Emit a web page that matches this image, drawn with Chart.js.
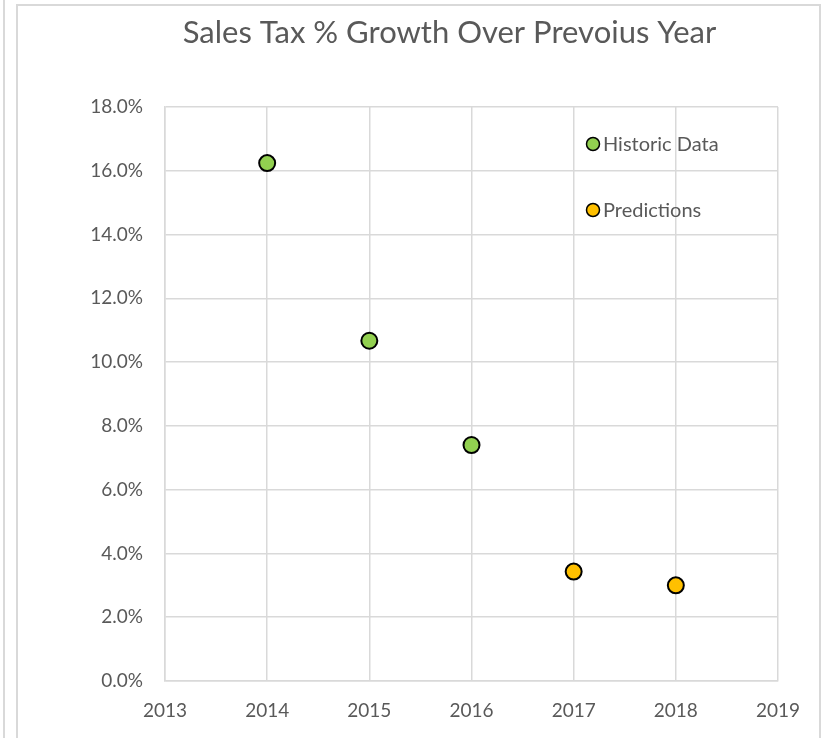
<!DOCTYPE html>
<html lang="en">
<head>
  <meta charset="UTF-8">
  <title>Sales Tax Growth</title>
  <script src="https://cdn.jsdelivr.net/npm/chart.js"></script>
  <style>
    body {
      margin: 0;
      background: #fff;
      width: 823px;
      height: 738px;
      overflow: hidden;
      position: relative;
    }
    .edge {
      position: absolute;
      left: 3px;
      top: 0;
      width: 0;
      height: 738px;
      border-left: 2px solid #d9d9d9;
    }
    .frame {
      position: absolute;
      left: 16px;
      top: 4px;
      width: 801px;
      height: 740px;
      border: 2px solid #d9d9d9;
      border-bottom: none;
    }
  </style>
</head>
<body>
  <div class="edge"></div>
  <div class="frame">
    <canvas id="chart" width="801" height="732"></canvas>
  </div>

  <script>
    const historicYears = [2014, 2015, 2016];
    const historicGrowth = [16.24, 10.67, 7.40];
    const predictionYears = [2017, 2018];
    const predictionGrowth = [3.43, 3.00];
    const seriesNames = ["Historic Data", "Predictions"];
    const chartTitle = "Sales Tax % Growth Over Prevoius Year";

    const textColor = "#595959";
    const gridColor = "#d9d9d9";
    const fontFamily = "Lato, 'Open Sans', sans-serif";

    function toPoints(xs, ys) {
      return xs.map((x, i) => ({ x: x, y: ys[i] }));
    }

    // title is a bit right of the canvas centre in the excel chart, so draw it here
    const titleText = {
      id: "titleText",
      afterDraw(chart) {
        const ctx = chart.ctx;
        const area = chart.chartArea;
        ctx.save();
        ctx.fillStyle = textColor;
        ctx.font = "31px " + fontFamily;
        ctx.textAlign = "center";
        ctx.textBaseline = "middle";
        ctx.fillText(chartTitle, (area.left + area.right) / 2 - 22, 27);
        ctx.restore();
      }
    };

    // legend drawn inside the plot, top right
    const insideLegend = {
      id: "insideLegend",
      afterDraw(chart) {
        const ctx = chart.ctx;
        const area = chart.chartArea;
        ctx.save();
        chart.data.datasets.forEach((ds, i) => {
          const x = area.right - 185;
          const y = area.top + 37 + i * 66;
          ctx.beginPath();
          ctx.arc(x, y, 6.5, 0, Math.PI * 2);
          ctx.fillStyle = ds.backgroundColor;
          ctx.fill();
          ctx.lineWidth = 1.5;
          ctx.strokeStyle = "#000";
          ctx.stroke();
          ctx.fillStyle = textColor;
          ctx.font = "20px " + fontFamily;
          ctx.textBaseline = "middle";
          ctx.fillText(ds.label, x + 10, y + 1);
        });
        ctx.restore();
      }
    };

    new Chart(document.getElementById("chart"), {
      type: "scatter",
      data: {
        datasets: [
          {
            label: seriesNames[0],
            data: toPoints(historicYears, historicGrowth),
            backgroundColor: "#92d050",
            borderColor: "#000",
            borderWidth: 2,
            pointRadius: 8,
            pointHoverRadius: 8
          },
          {
            label: seriesNames[1],
            data: toPoints(predictionYears, predictionGrowth),
            backgroundColor: "#ffc000",
            borderColor: "#000",
            borderWidth: 2,
            pointRadius: 8,
            pointHoverRadius: 8
          }
        ]
      },
      options: {
        responsive: false,
        animation: false,
        layout: { padding: { left: 0, right: 41, top: 101, bottom: 7 } },
        plugins: {
          legend: { display: false },
          tooltip: { enabled: false },
          title: { display: false }
        },
        scales: {
          x: {
            type: "linear",
            min: 2013,
            max: 2019,
            afterFit(scale) { scale.height = 50; },
            ticks: {
              stepSize: 1,
              padding: 18,
              color: textColor,
              font: { family: fontFamily, size: 19 },
              callback: v => String(v)
            },
            grid: { color: gridColor, lineWidth: 1.5, drawTicks: false },
            border: { color: gridColor, width: 1.5 }
          },
          y: {
            min: 0,
            max: 18,
            afterFit(scale) { scale.width = 147; },
            ticks: {
              stepSize: 2,
              padding: 22,
              color: textColor,
              font: { family: fontFamily, size: 19 },
              callback: v => v.toFixed(1) + "%"
            },
            grid: { color: gridColor, lineWidth: 1.5, drawTicks: false },
            border: { color: gridColor, width: 1.5 }
          }
        }
      },
      plugins: [titleText, insideLegend]
    });
  </script>
</body>
</html>
